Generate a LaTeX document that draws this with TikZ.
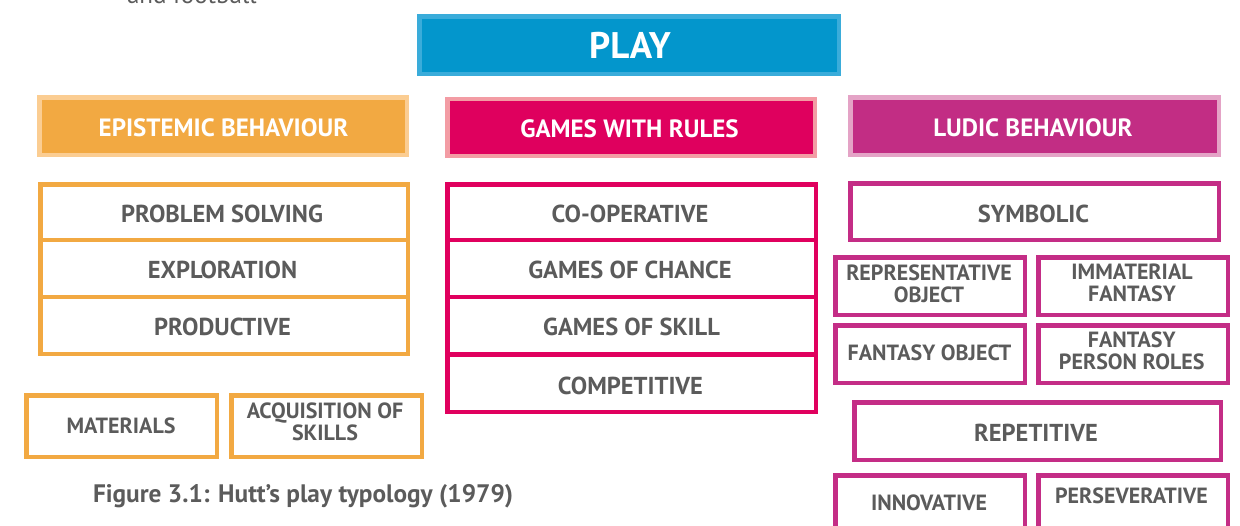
\documentclass[tikz,border=0pt]{standalone}
\usepackage{fontspec}
\setmainfont{PT Sans}
\begin{document}
\begin{tikzpicture}[x=1pt,y=-1pt,
  every node/.style={inner sep=0pt,outer sep=0pt},
  lbl/.style={text=txtgray,font=\bfseries\fontsize{24.5}{26}\selectfont,align=center},
  lblsmall/.style={text=txtgray,font=\bfseries\fontsize{22}{22}\selectfont,align=center},
  hdr/.style={text=white,font=\bfseries\fontsize{25}{26}\selectfont},
  obox/.style={draw=orangeline,line width=4.5pt},
  rbox/.style={draw=crimsonline,line width=4.5pt},
  mbox/.style={draw=magentaline,line width=4.5pt},
]
\definecolor{txtgray}{HTML}{5B5B5B}
\definecolor{bluefill}{HTML}{0396CC}
\definecolor{blueedge}{HTML}{3AACDA}
\definecolor{orangefill}{HTML}{F2A942}
\definecolor{orangeedge}{HTML}{FBCD92}
\definecolor{orangeline}{HTML}{F2A942}
\definecolor{crimsonfill}{HTML}{DF005E}
\definecolor{crimsonedge}{HTML}{F39CA4}
\definecolor{crimsonline}{HTML}{E0005E}
\definecolor{magentafill}{HTML}{C22D84}
\definecolor{magentaedge}{HTML}{E4A3C6}
\definecolor{magentaline}{HTML}{C42D86}
\useasboundingbox (0,0) rectangle (1240,525);
\clip (0,0) rectangle (1240,525);
% cut-off text at top
\node[anchor=base west,text=txtgray,font=\fontsize{25}{28}\selectfont] (top) at (127,3) {and football};
% PLAY
\filldraw[fill=bluefill,draw=blueedge,line width=4.5pt] (419.25,16.25) rectangle (838.75,73.75);
\node[text=white,font=\bfseries\fontsize{37}{40}\selectfont] (play) at (630,45) {PLAY};
% headers
\filldraw[fill=orangefill,draw=orangeedge,line width=4.5pt] (39.25,97.25) rectangle (406.75,154.75);
\node[hdr] (epi) at (223.5,127.5) {EPISTEMIC BEHAVIOUR};
\filldraw[fill=crimsonfill,draw=crimsonedge,line width=4.5pt] (447.25,98.75) rectangle (814.75,155.75);
\node[hdr] (gwr) at (629.5,128.5) {GAMES WITH RULES};
\filldraw[fill=magentafill,draw=magentaedge,line width=4.5pt] (850.25,97.25) rectangle (1218.75,154.75);
\node[hdr] (lud) at (1033,127.5) {LUDIC BEHAVIOUR};
% epistemic list
\draw[obox] (40.25,184.25) rectangle (407.75,353.75);
\draw[obox] (40.25,240) -- (407.75,240);
\draw[obox] (40.25,297) -- (407.75,297);
\node[lbl] (ps) at (222,213.5) {PROBLEM SOLVING};
\node[lbl] (ex) at (222.5,270) {EXPLORATION};
\node[lbl] (pr) at (222.5,327) {PRODUCTIVE};
% materials
\draw[obox] (26.25,395.25) rectangle (216.75,456.75);
\node[lblsmall] (mat) at (121,426) {MATERIALS};
\draw[obox] (231.25,395.25) rectangle (421.75,456.75);
\node[lblsmall] (acq) at (325,422) {ACQUISITION OF\\SKILLS};
% games list
\draw[rbox] (447.25,184.25) rectangle (815.75,411.75);
\draw[rbox] (447.25,240) -- (815.75,240);
\draw[rbox] (447.25,297) -- (815.75,297);
\draw[rbox] (447.25,354.5) -- (815.75,354.5);
\node[lbl] (coop) at (630,213.5) {CO-OPERATIVE};
\node[lbl] (chance) at (630,270) {GAMES OF CHANCE};
\node[lbl] (skill) at (631.5,327) {GAMES OF SKILL};
\node[lbl] (comp) at (630.5,385.5) {COMPETITIVE};
% ludic
\draw[mbox] (850.25,183.25) rectangle (1218.75,239.75);
\node[lbl] (sym) at (1033.5,213.5) {SYMBOLIC};
\draw[mbox] (835.25,257.25) rectangle (1024.75,314.75);
\node[lblsmall] (repobj) at (929,283.5) {REPRESENTATIVE\\OBJECT};
\draw[mbox] (1038.25,257.25) rectangle (1227.75,314.75);
\node[lblsmall] (immat) at (1132,282.5) {IMMATERIAL\\FANTASY};
\draw[mbox] (835.25,325.25) rectangle (1024.75,382.75);
\node[lblsmall] (fobj) at (929.5,352.5) {FANTASY OBJECT};
\draw[mbox] (1038.25,325.25) rectangle (1227.75,382.75);
\node[lblsmall] (fpr) at (1131.7,351) {FANTASY\\PERSON ROLES};
\draw[mbox] (854.25,402.25) rectangle (1220.75,459.75);
\node[lbl] (rep) at (1036,433) {REPETITIVE};
\draw[mbox] (835.25,475.25) rectangle (1024.75,540);
\node[lblsmall] (inno) at (929,502.5) {INNOVATIVE};
\draw[mbox] (1038.25,475.25) rectangle (1227.75,540);
\node[lblsmall] (pers) at (1131.5,496) {PERSEVERATIVE};
% caption
\node[anchor=base west,text=txtgray,font=\bfseries\fontsize{25.3}{28}\selectfont] (cap) at (93,502) {Figure 3.1: Hutt’s play typology (1979)};
\end{tikzpicture}
\end{document}
